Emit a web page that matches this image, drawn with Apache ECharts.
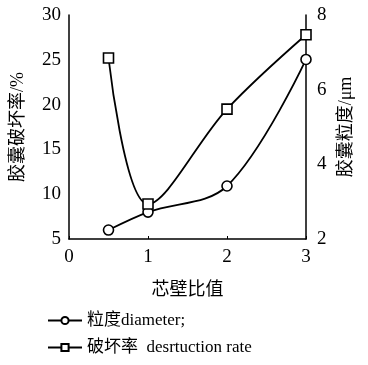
<!DOCTYPE html>
<html><head><meta charset="utf-8">
<script src="https://cdn.jsdelivr.net/npm/echarts@6/dist/echarts.min.js"></script>
<style>html,body{margin:0;padding:0;background:#fff}#c{width:368px;height:365px}</style>
</head><body><div id="c"></div>
<script>
var ratios = [0.5, 1, 2, 3];
var diameter = [2.24, 2.72, 3.42, 6.81];
var destruction = [25.2, 8.9, 19.5, 27.8];
var xTicks = [0, 1, 2, 3];
var leftTicks = [5, 10, 15, 20, 25, 30];
var rightTicks = [2, 4, 6, 8];

var FONT = '"Liberation Serif", "Noto Sans CJK SC", serif';
var chart = echarts.init(document.getElementById('c'), null, {renderer: 'canvas'});
function pairs(xs, ys){ return xs.map(function(x,i){return [x, ys[i]];}); }
chart.setOption({
  animation: false,
  backgroundColor: '#fff',
  textStyle: {fontFamily: FONT, color: '#000'},
  grid: {left: 69, right: 62, top: 15, bottom: 126},
  xAxis: {
    type: 'value', min: xTicks[0], max: xTicks[xTicks.length-1], interval: 1,
    name: '芯壁比值', nameLocation: 'middle', nameGap: 42,
    nameTextStyle: {fontSize: 18, fontFamily: FONT, color: '#000'},
    axisLine: {lineStyle: {color: '#000', width: 1.5}},
    axisTick: {inside: true, length: 3, lineStyle: {color: '#000'}},
    axisLabel: {fontSize: 19, color: '#000', margin: 9, fontFamily: FONT},
    splitLine: {show: false}
  },
  yAxis: [{
    type: 'value', min: leftTicks[0], max: leftTicks[leftTicks.length-1], interval: 5,
    position: 'left',
    name: '胶囊破坏率/%', nameLocation: 'middle', nameGap: 42, nameRotate: 90,
    nameTextStyle: {fontSize: 18, fontFamily: FONT, color: '#000'},
    axisLine: {show: true, lineStyle: {color: '#000', width: 1.5}},
    axisTick: {show: false},
    axisLabel: {fontSize: 19, color: '#000', margin: 8, fontFamily: FONT},
    splitLine: {show: false}
  }, {
    type: 'value', min: rightTicks[0], max: rightTicks[rightTicks.length-1], interval: 2,
    position: 'right',
    name: '胶囊粒度/μm', nameLocation: 'middle', nameGap: 30, nameRotate: 90,
    nameTextStyle: {fontSize: 18, fontFamily: FONT, color: '#000'},
    axisLine: {show: true, lineStyle: {color: '#000', width: 1.5}},
    axisTick: {show: false},
    axisLabel: {fontSize: 19, color: '#000', margin: 11, fontFamily: FONT},
    splitLine: {show: false}
  }],
  legend: {
    orient: 'vertical', left: 42, top: 307, itemGap: 10,
    itemWidth: 34, itemHeight: 9,
    textStyle: {fontSize: 17, fontFamily: FONT, color: '#000'},
    data: ['粒度diameter;', '破坏率  desrtuction rate']
  },
  series: [{
    name: '粒度diameter;', type: 'line', yAxisIndex: 1,
    data: pairs(ratios, diameter), smooth: 0.35,
    symbol: 'circle', symbolSize: 10,
    lineStyle: {color: '#000', width: 1.8},
    itemStyle: {color: '#fff', borderColor: '#000', borderWidth: 1.6}
  }, {
    name: '破坏率  desrtuction rate', type: 'line', yAxisIndex: 0,
    data: pairs(ratios, destruction), smooth: 0.35,
    symbol: 'rect', symbolSize: 10,
    lineStyle: {color: '#000', width: 1.8},
    itemStyle: {color: '#fff', borderColor: '#000', borderWidth: 1.6}
  }]
});
</script></body></html>
